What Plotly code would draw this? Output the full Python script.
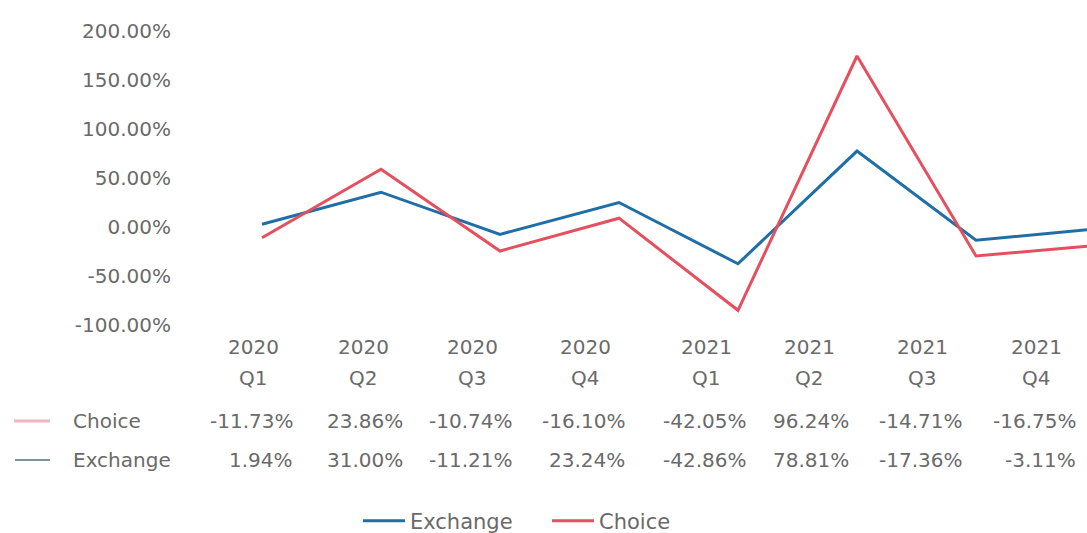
import plotly.graph_objects as go

# ---- data ----
quarters = ["2020 Q1", "2020 Q2", "2020 Q3", "2020 Q4", "2021 Q1", "2021 Q2", "2021 Q3", "2021 Q4"]
header_top = ["2020", "2020", "2020", "2020", "2021", "2021", "2021", "2021"]
header_bottom = ["Q1", "Q2", "Q3", "Q4", "Q1", "Q2", "Q3", "Q4"]
exchange_line = [2.8, 35.5, -7.5, 25.0, -37.5, 77.5, -13.5, -2.0]
choice_line = [-11.0, 59.0, -24.5, 9.0, -85.0, 174.5, -29.5, -19.0]
choice_table = ["-11.73%", "23.86%", "-10.74%", "-16.10%", "-42.05%", "96.24%", "-14.71%", "-16.75%"]
exchange_table = ["1.94%", "31.00%", "-11.21%", "23.24%", "-42.86%", "78.81%", "-17.36%", "-3.11%"]
y_ticks = [-100, -50, 0, 50, 100, 150, 200]

# ---- layout constants (pixels) ----
W, H = 1087, 533
L, R, T, B = 172, 0, 31, 208
FONT = "DejaVu Sans"
FS = 20
TXT = "#6a6a6a"
BLUE = "#1f6fa6"
RED = "#e5505f"
col_centers = [253, 363, 472, 585, 706, 809, 922, 1036]
row_y = {"h1": 347, "h2": 378, "choice": 421, "exchange": 460}


def px(p):
    return (p - L) / (W - L - R)


def py(p):
    return (H - B - p) / (H - T - B)


fig = go.Figure()
fig.add_trace(go.Scatter(x=list(range(len(quarters))), y=exchange_line, name="Exchange",
                         mode="lines", line=dict(color=BLUE, width=3), hoverinfo="skip"))
fig.add_trace(go.Scatter(x=list(range(len(quarters))), y=choice_line, name="Choice",
                         mode="lines", line=dict(color=RED, width=3), hoverinfo="skip"))

ann = []
for i in range(len(quarters)):
    c = col_centers[i]
    ann.append(dict(x=px(c), y=py(row_y["h1"]), text=header_top[i]))
    ann.append(dict(x=px(c), y=py(row_y["h2"]), text=header_bottom[i]))
    ann.append(dict(x=px(c + 42), y=py(row_y["choice"]), text=choice_table[i], xanchor="right"))
    ann.append(dict(x=px(c + 42), y=py(row_y["exchange"]), text=exchange_table[i], xanchor="right"))
ann.append(dict(x=px(71), y=py(row_y["choice"]), text="Choice", xanchor="left"))
ann.append(dict(x=px(71), y=py(row_y["exchange"]), text="Exchange", xanchor="left"))
for a in ann:
    a.setdefault("xanchor", "center")
    a.update(xref="paper", yref="paper", yanchor="middle", showarrow=False,
             font=dict(family=FONT, size=FS, color=TXT))

shapes = [
    dict(type="line", xref="paper", yref="paper", x0=px(14), x1=px(50),
         y0=py(row_y["choice"]), y1=py(row_y["choice"]), line=dict(color="#f2b6c2", width=3)),
    dict(type="line", xref="paper", yref="paper", x0=px(15), x1=px(50),
         y0=py(row_y["exchange"]), y1=py(row_y["exchange"]), line=dict(color="#4f7272", width=1.5)),
]

fig.update_layout(
    width=W, height=H,
    margin=dict(l=L, r=R, t=T, b=B, pad=0, autoexpand=False),
    paper_bgcolor="white", plot_bgcolor="white",
    font=dict(family=FONT, size=FS, color=TXT),
    showlegend=True,
    legend=dict(orientation="h", xref="container", yref="container",
                x=358 / W, xanchor="left", y=(H - 521) / H, yanchor="middle",
                font=dict(family=FONT, size=21, color=TXT), itemwidth=42,
                entrywidth=132, entrywidthmode="pixels"),
    xaxis=dict(range=[-90 / 119, (W - L - R - 90) / 119], showticklabels=False, showgrid=False,
               zeroline=False, showline=False, ticks=""),
    yaxis=dict(range=[-100, 200], tickvals=y_ticks, ticktext=[f"{v:.2f}%" for v in y_ticks],
               showgrid=False, zeroline=False, showline=False, ticks="",
               tickfont=dict(family=FONT, size=FS, color=TXT)),
    annotations=ann, shapes=shapes,
)

fig.write_html("out.html", config={"displayModeBar": False, "staticPlot": True},
               post_script="document.body.style.margin='0';document.body.style.overflow='hidden';")
